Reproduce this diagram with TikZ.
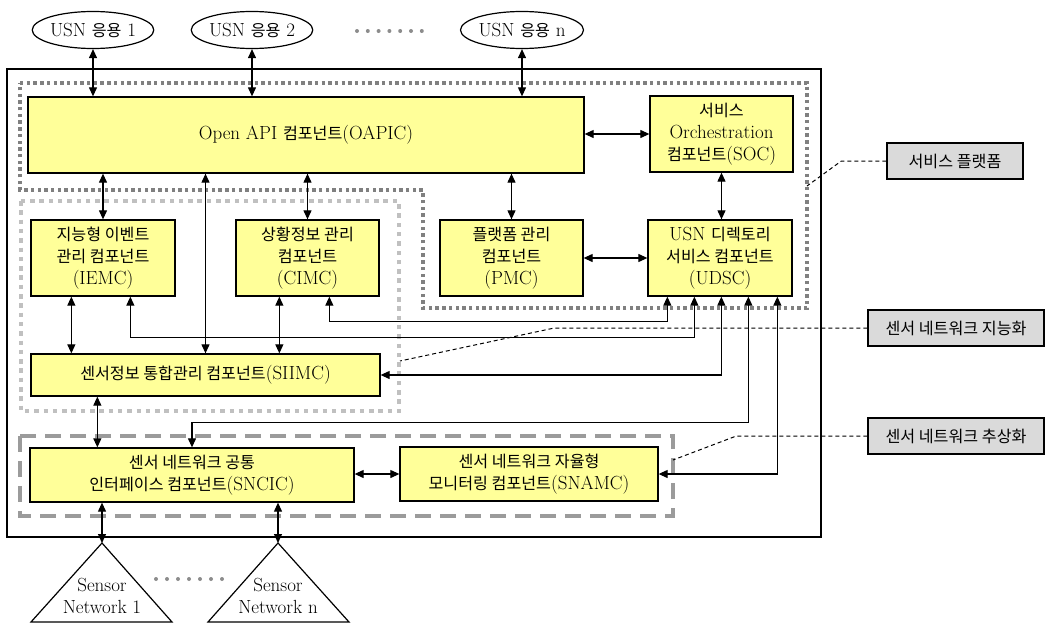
\documentclass[tikz,border=0pt]{standalone}
\usepackage{fontspec}
\usetikzlibrary{arrows.meta,shapes.geometric,calc}
\newfontfamily\krfont{Noto Sans CJK KR}[Scale=0.85]
\newcommand{\kt}[1]{{\krfont #1}}
\definecolor{compyellow}{RGB}{255,255,153}
\definecolor{labgray}{RGB}{218,218,218}
\definecolor{platgray}{RGB}{128,128,128}
\definecolor{intgray}{RGB}{192,192,192}
\definecolor{absgray}{RGB}{155,155,155}
\definecolor{dotgray}{RGB}{140,140,140}
\tikzset{
  comp/.style={draw, line width=1.3pt, fill=compyellow, align=center, inner sep=0pt},
  tag/.style={draw, line width=1.3pt, fill=labgray, inner sep=0pt},
  app/.style={draw, ellipse, line width=1.2pt, inner sep=0pt, minimum width=120pt, minimum height=37pt},
  biarrow/.style={line width=1.1pt, {Triangle[length=9pt,width=8pt]}-{Triangle[length=9pt,width=8pt]}},
  leader/.style={line width=1pt, dash pattern=on 4pt off 3pt},
  platregion/.style={draw=platgray, line width=4pt, dash pattern=on 3.4pt off 3.3pt},
  intregion/.style={draw=intgray, line width=4.5pt, dash pattern=on 4.5pt off 4.8pt},
  absregion/.style={draw=absgray, line width=4pt, dash pattern=on 16pt off 9pt},
  frame/.style={draw, line width=1.2pt},
  netshape/.style={draw, line width=1.2pt, line join=miter}
}
\begin{document}
\begin{tikzpicture}[x=1pt, y=-1pt, font=\fontsize{19}{22}\selectfont]
\useasboundingbox (0,0) rectangle (1045,624);

% main system frame and grouping regions
\draw[frame] (7,69) rectangle (821,537);
\draw[platregion] (20,83) -- (807,83) -- (807,308) -- (423,308) -- (423,190) -- (20,190) -- cycle;
\draw[intregion] (21,201) rectangle (399,411);
\draw[absregion] (20,436) rectangle (673,516);

% applications
\node[app] (USN1) at (93,30) {USN \kt{응용} 1};
\node[app] (USN2) at (252,30) {USN \kt{응용} 2};
\node[app] (USNn) at (522,30) {USN \kt{응용} n};
\foreach \i in {0,...,6} \fill[dotgray] (357+\i*10.8,31) circle (2pt);

% components
\node[comp, minimum width=556pt, minimum height=76pt] (OAPIC) at (306,135) {Open API \kt{컴포넌트}(OAPIC)};
\node[comp, minimum width=143pt, minimum height=76pt] (SOC) at (721.5,134) {\kt{서비스}\\Orchestration\\\kt{컴포넌트}(SOC)};
\node[comp, minimum width=144pt, minimum height=76pt] (IEMC) at (103,258) {\kt{지능형 이벤트}\\\kt{관리 컴포넌트}\\(IEMC)};
\node[comp, minimum width=143pt, minimum height=76pt] (CIMC) at (307.5,258) {\kt{상황정보 관리}\\\kt{컴포넌트}\\(CIMC)};
\node[comp, minimum width=143pt, minimum height=76pt] (PMC) at (511.5,258) {\kt{플랫폼 관리}\\\kt{컴포넌트}\\(PMC)};
\node[comp, minimum width=144pt, minimum height=76pt] (UDSC) at (720,258) {USN \kt{디렉토리}\\\kt{서비스 컴포넌트}\\(UDSC)};
\node[comp, minimum width=349pt, minimum height=42pt] (SIIMC) at (205.5,375) {\kt{센서정보 통합관리 컴포넌트}(SIIMC)};
\node[comp, minimum width=324pt, minimum height=54pt] (SNCIC) at (192,475) {\kt{센서 네트워크 공통}\\\kt{인터페이스 컴포넌트}(SNCIC)};
\node[comp, minimum width=258pt, minimum height=54pt] (SNAMC) at (529,474) {\kt{센서 네트워크 자율형}\\\kt{모니터링 컴포넌트}(SNAMC)};

% side labels
\node[tag, minimum width=136pt, minimum height=36pt] (tplat) at (955,161) {\kt{서비스 플랫폼}};
\node[tag, minimum width=176pt, minimum height=36pt] (tint) at (956,328) {\kt{센서 네트워크 지능화}};
\node[tag, minimum width=176pt, minimum height=36pt] (tabs) at (956,436) {\kt{센서 네트워크 추상화}};

% sensor networks
\coordinate (SN1) at (102,543);
\coordinate (SNn) at (278,543);
\draw[netshape] (SN1) -- (31,622) -- (172,622) -- cycle;
\draw[netshape] (SNn) -- (208,622) -- (349,622) -- cycle;
\node[align=center, inner sep=0pt] (SN1text) at (102,596) {Sensor\\Network 1};
\node[align=center, inner sep=0pt] (SNntext) at (278,596) {Sensor\\Network n};
\foreach \i in {0,...,6} \fill[dotgray] (156+\i*11,579) circle (2pt);

% application links
\draw[biarrow] (USN1.south) -- (USN1.south |- OAPIC.north);
\draw[biarrow] (USN2.south) -- (USN2.south |- OAPIC.north);
\draw[biarrow] (USNn.south) -- (USNn.south |- OAPIC.north);

% platform links
\draw[biarrow] (SOC.west -| OAPIC.east) -- (SOC.west);
\draw[biarrow] (IEMC.north |- OAPIC.south) -- (IEMC.north);
\draw[biarrow] (SIIMC.north |- OAPIC.south) -- (SIIMC.north);
\draw[biarrow] (CIMC.north |- OAPIC.south) -- (CIMC.north);
\draw[biarrow] (PMC.north |- OAPIC.south) -- (PMC.north);
\draw[biarrow] (SOC.south) -- (SOC.south |- UDSC.north);
\draw[biarrow] (PMC.east) -- (UDSC.west);

% intelligence links
\draw[biarrow] ([xshift=41pt]IEMC.south west) -- ([xshift=41pt]IEMC.south west |- SIIMC.north);
\draw[biarrow] ([xshift=44pt]CIMC.south west) -- ([xshift=44pt]CIMC.south west |- SIIMC.north);

% directory service links
\draw[biarrow] ([xshift=20pt]UDSC.south west) -- ++(0,25) -| ([xshift=94pt]CIMC.south west);
\draw[biarrow] ([xshift=47pt]UDSC.south west) -- ++(0,41) -| ([xshift=100pt]IEMC.south west);
\draw[biarrow] ([xshift=74pt]UDSC.south west) |- (SIIMC.east);
\draw[biarrow] ([xshift=101pt]UDSC.south west) -- ++(0,126) -| (SNCIC.north);
\draw[biarrow] ([xshift=130pt]UDSC.south west) |- (SNAMC.east);

% abstraction links
\draw[biarrow] ([xshift=67pt]SIIMC.south west) -- ([xshift=67pt]SIIMC.south west |- SNCIC.north);
\draw[biarrow] (SNAMC.west -| SNCIC.east) -- (SNAMC.west);
\draw[biarrow] (SN1 |- SNCIC.south) -- (SN1);
\draw[biarrow] (SNn |- SNCIC.south) -- (SNn);

% label leaders
\coordinate (platpt) at (807,186);
\coordinate (intpt) at (400,361);
\coordinate (abspt) at (673,460);
\draw[leader] (tplat.west) -- ++(-45,0) -- (platpt);
\draw[leader] (tint.west) -- ++(-313,0) -- (intpt);
\draw[leader] (tabs.west) -- ++(-131,0) -- (abspt);
\end{tikzpicture}
\end{document}
